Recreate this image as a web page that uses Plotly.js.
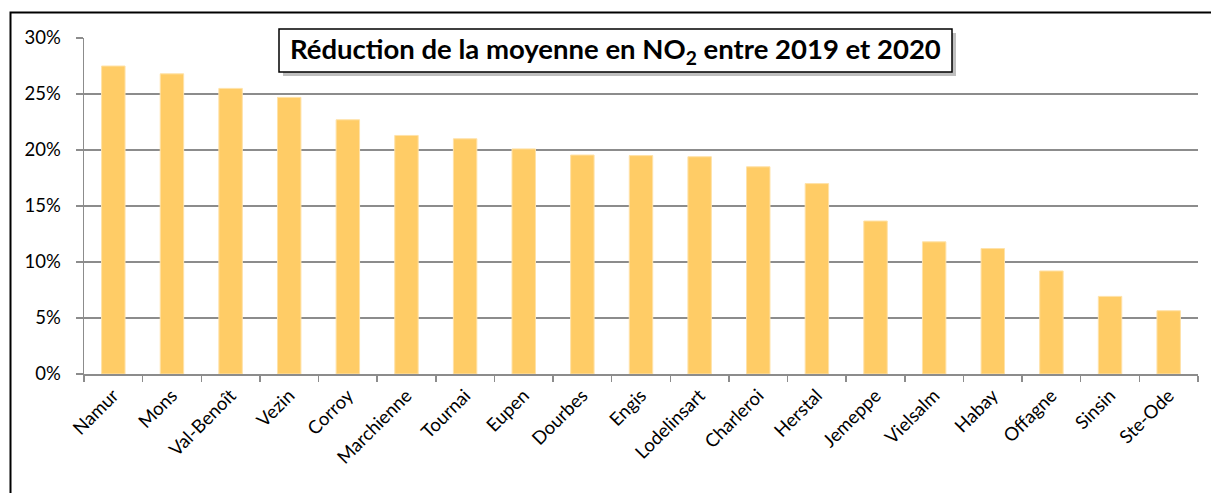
<!DOCTYPE html>
<html>
<head>
<meta charset="utf-8">
<script src="https://cdn.plot.ly/plotly-3.0.1.min.js"></script>
<style>html,body{margin:0;padding:0;background:#fff;}#chart{width:1211px;height:493px;}</style>
</head>
<body>
<div id="chart"></div>
<script>
const stations = ["Namur","Mons","Val-Benoît","Vezin","Corroy","Marchienne","Tournai","Eupen","Dourbes","Engis","Lodelinsart","Charleroi","Herstal","Jemeppe","Vielsalm","Habay","Offagne","Sinsin","Ste-Ode"];
const reduction = [0.275,0.268,0.255,0.247,0.227,0.213,0.210,0.201,0.1955,0.195,0.194,0.185,0.170,0.1366,0.118,0.112,0.092,0.0693,0.0565];
const yTicks = [0,0.05,0.10,0.15,0.20,0.25,0.30];
const yTickText = ["0%","5%","10%","15%","20%","25%","30%"];
const titleText = "Réduction de la moyenne en NO<sub>2</sub> entre 2019 et 2020";

const W = 1211, H = 493;
const L = 84, R = 13, T = 38, B = 119;
const pw = W - L - R, ph = H - T - B;
function px(x){ return (x - L) / pw; }
function py(y){ return 1 - (y - T) / ph; }

const FONT = "Lato, 'Open Sans', sans-serif";

const data = [{
  type: "bar",
  x: stations,
  y: reduction,
  marker: {color: "#FFCC66", line: {color: "#FFE2A8", width: 1}},
  hoverinfo: "x+y"
}];

const layout = {
  width: W, height: H,
  margin: {l: L, r: R, t: T, b: B, pad: 0},
  paper_bgcolor: "#fff",
  plot_bgcolor: "#fff",
  bargap: 0.6,
  showlegend: false,
  font: {family: FONT, size: 18, color: "#000"},
  xaxis: {
    type: "category",
    showgrid: false,
    showline: true, linecolor: "#8c8c8c", linewidth: 1.5,
    ticks: "outside", tickson: "boundaries", ticklen: 6, tickcolor: "#8c8c8c", tickwidth: 1.5,
    tickangle: -45,
    ticklabelstandoff: 2,
    tickfont: {family: FONT, size: 18.5, color: "#000"},
    fixedrange: true
  },
  yaxis: {
    range: [0, 0.30],
    tickvals: yTicks, ticktext: yTickText,
    showgrid: true, gridcolor: "#8c8c8c", gridwidth: 1.5,
    showline: true, linecolor: "#8c8c8c", linewidth: 1.5,
    ticks: "outside", ticklen: 7, tickcolor: "#8c8c8c", tickwidth: 1.5,
    ticklabelstandoff: 11,
    zeroline: false,
    tickfont: {family: FONT, size: 18.5, color: "#000"},
    fixedrange: true
  },
  shapes: [
    {type: "rect", xref: "paper", yref: "paper",
     x0: px(10.5), x1: px(W + 20), y0: py(12.5), y1: py(H + 20),
     line: {color: "#000", width: 2}, fillcolor: "rgba(0,0,0,0)", layer: "above"},
    {type: "rect", xref: "paper", yref: "paper",
     x0: px(283), x1: px(956), y0: py(33), y1: py(76),
     line: {width: 0}, fillcolor: "rgba(0,0,0,0.25)", layer: "above"},
    {type: "rect", xref: "paper", yref: "paper",
     x0: px(279), x1: px(952), y0: py(29), y1: py(72),
     line: {color: "#000", width: 1.5}, fillcolor: "#fff", layer: "above"}
  ],
  annotations: [{
    xref: "paper", yref: "paper",
    x: px(615.5), y: py(50.5),
    xanchor: "center", yanchor: "middle",
    text: "<b>" + titleText + "</b>",
    showarrow: false,
    font: {family: FONT, size: 27.5, color: "#000"}
  }]
};

Plotly.newPlot("chart", data, layout, {displayModeBar: false, staticPlot: true});
</script>
</body>
</html>
